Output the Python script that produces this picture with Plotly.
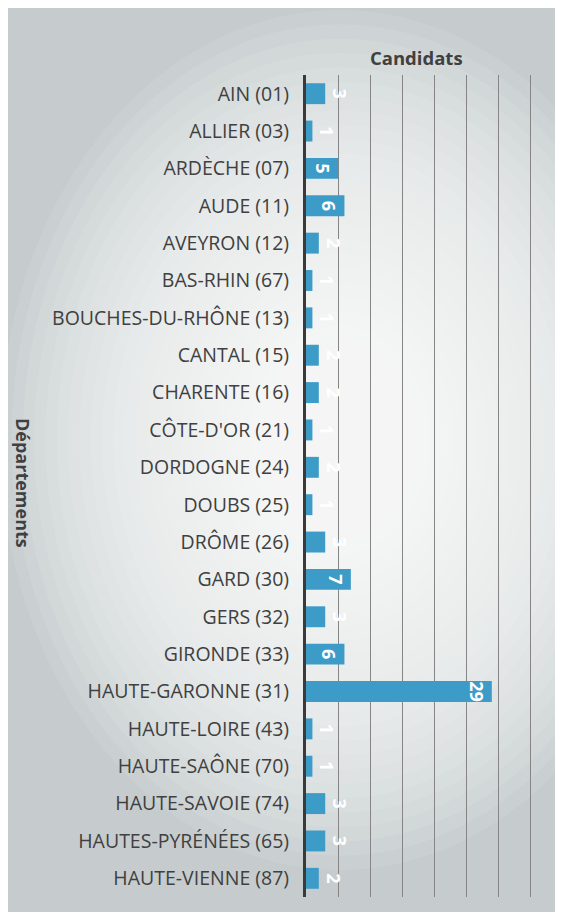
import plotly.graph_objects as go

departements = [
    "AIN (01)", "ALLIER (03)", "ARDÈCHE (07)", "AUDE (11)", "AVEYRON (12)",
    "BAS-RHIN (67)", "BOUCHES-DU-RHÔNE (13)", "CANTAL (15)", "CHARENTE (16)",
    "CÔTE-D'OR (21)", "DORDOGNE (24)", "DOUBS (25)", "DRÔME (26)", "GARD (30)",
    "GERS (32)", "GIRONDE (33)", "HAUTE-GARONNE (31)", "HAUTE-LOIRE (43)",
    "HAUTE-SAÔNE (70)", "HAUTE-SAVOIE (74)", "HAUTES-PYRÉNÉES (65)",
    "HAUTE-VIENNE (87)",
]
candidats = [3, 1, 5, 6, 2, 1, 1, 2, 2, 1, 2, 1, 3, 7, 3, 6, 29, 1, 1, 3, 3, 2]
x_ticks = [0, 5, 10, 15, 20, 25, 30, 35]

OFF = 8  # page body margin: screen px -> figure px
W, H = 557, 908
ML, MR, MT, MB = 298, 20, 67, 19
PW = W - ML - MR
PH = H - MT - MB


def px_x(p):
    return (p - OFF - ML) / PW


def px_y(p):
    return (H - MB - (p - OFF)) / PH


shapes = [
    dict(type="rect", xref="paper", yref="paper", layer="below",
         x0=px_x(0), x1=px_x(555), y0=px_y(912), y1=px_y(8),
         fillcolor="#c6cccd", line=dict(width=0)),
]
# soft white glow in the middle of the scanned page
cx, cy, a, b = 340, 440, 340, 430
N = 30
for k in range(N):
    s = 1 - k / N
    shapes.append(dict(
        type="circle", xref="paper", yref="paper", layer="below",
        x0=px_x(cx - a * s), x1=px_x(cx + a * s),
        y0=px_y(cy + b * s), y1=px_y(cy - b * s),
        fillcolor="rgba(255,255,255,0.085)", line=dict(width=0)))

label_font = dict(color="white", size=18, family="Open Sans", weight="bold")
fig = go.Figure(go.Bar(
    x=candidats, y=departements, orientation="h",
    marker=dict(color="#3d9bc8", line=dict(width=0)),
    text=[str(v) for v in candidats],
    textposition=["outside" if v <= 3 else "inside" for v in candidats],
    textangle=90, constraintext="none", insidetextanchor="end",
    textfont=label_font, outsidetextfont=label_font, insidetextfont=label_font,
    cliponaxis=False, hoverinfo="skip",
))

fig.update_layout(
    width=W, height=H,
    margin=dict(l=ML, r=MR, t=MT, b=MB),
    paper_bgcolor="white", plot_bgcolor="rgba(0,0,0,0)",
    bargap=0.44, showlegend=False,
    shapes=shapes,
    font=dict(family="Open Sans", color="#404040"),
    annotations=[
        dict(text="<b>Candidats</b>", xref="paper", yref="paper",
             x=px_x(416), y=px_y(58), xanchor="center", yanchor="middle",
             showarrow=False,
             font=dict(size=18.5, color="#404040", family="Open Sans")),
        dict(text="<b>Départements</b>", xref="paper", yref="paper",
             x=px_x(23), y=px_y(483), xanchor="center", yanchor="middle",
             showarrow=False, textangle=90,
             font=dict(size=18, color="#404040", family="Open Sans")),
    ],
)
fig.update_xaxes(
    range=[0, 37.3], tickvals=x_ticks, showticklabels=False,
    showgrid=True, gridcolor="#858585", gridwidth=1, zeroline=False,
    showline=False, fixedrange=True,
)
fig.update_yaxes(
    autorange="reversed", showline=True, linecolor="#3a3a3a", linewidth=3,
    ticks="", ticklabelstandoff=10, showgrid=False,
    tickfont=dict(size=19.5, color="#404040", family="Open Sans"),
    fixedrange=True,
)

fig.write_html("out.html")
